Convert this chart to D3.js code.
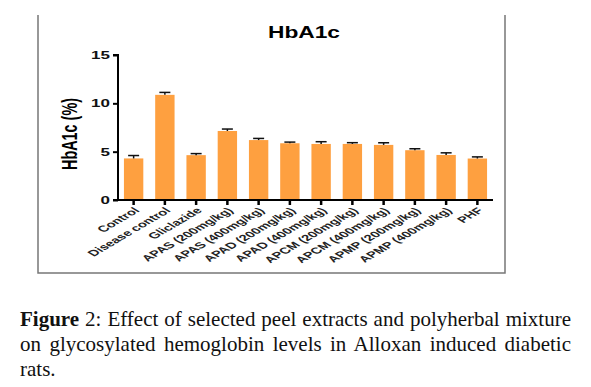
<!DOCTYPE html>
<html>
<head>
<meta charset="utf-8">
<script src="https://cdn.jsdelivr.net/npm/d3@7"></script>
<style>
  body { margin: 0; background: #fff; }
  #wrap { position: relative; width: 591px; height: 387px; }
  svg { position: absolute; left: 0; top: 0; }
  .cap { position: absolute; left: 20px; width: 551px;
         font-family: "Liberation Serif", "DejaVu Serif", "Times New Roman", serif;
         font-size: 21px; line-height: 24px; color: #111; white-space: nowrap; }
  .cap.j { text-align: justify; text-align-last: justify; }
</style>
</head>
<body>
<div id="wrap">
  <svg id="chart" width="591" height="290"></svg>
  <div class="cap j" style="top:307px"><b>Figure</b> 2: Effect of selected peel extracts and polyherbal mixture</div>
  <div class="cap j" style="top:332px">on glycosylated hemoglobin levels in Alloxan induced diabetic</div>
  <div class="cap" style="top:357px">rats.</div>
</div>
<script>
const groups = ["Control", "Disease control", "Gliclazide", "APAS (200mg/kg)", "APAS (400mg/kg)",
  "APAD (200mg/kg)", "APAD (400mg/kg)", "APCM (200mg/kg)", "APCM (400mg/kg)",
  "APMP (200mg/kg)", "APMP (400mg/kg)", "PHF"];
const means = [4.3, 10.88, 4.64, 7.14, 6.2, 5.87, 5.8, 5.8, 5.7, 5.15, 4.66, 4.29];
const errs = [0.3, 0.25, 0.16, 0.2, 0.17, 0.12, 0.23, 0.13, 0.22, 0.15, 0.22, 0.17];
const yTicks = [0, 5, 10, 15];

// the original figure is stretched sideways, so all chart text is widened
const stretch = 1.7;
const font = "Liberation Sans, Arial, sans-serif";

const svg = d3.select("#chart");

// frame around the figure (no top edge)
svg.append("path")
    .attr("d", "M38,15V273H505V15")
    .attr("fill", "none")
    .attr("stroke", "#777")
    .attr("stroke-width", 1.5);

const x = d3.scaleBand()
    .domain(groups)
    .range([118, 493])
    .paddingInner(0.38)
    .paddingOuter(0.19);

const y = d3.scaleLinear()
    .domain([0, 15])
    .range([200, 55]);

svg.append("text")
    .attr("x", 304)
    .attr("y", 38)
    .attr("text-anchor", "middle")
    .attr("font-family", font)
    .attr("font-weight", "bold")
    .attr("font-size", 16)
    .attr("textLength", 72)
    .attr("lengthAdjust", "spacingAndGlyphs")
    .text("HbA1c");

svg.append("g")
  .selectAll("rect")
  .data(groups)
  .join("rect")
    .attr("x", d => x(d))
    .attr("y", (d, i) => y(means[i]))
    .attr("width", x.bandwidth())
    .attr("height", (d, i) => y(0) - y(means[i]))
    .attr("fill", "#fea040");

// error bars, upper half only
const eb = svg.append("g")
    .attr("stroke", "#111")
    .attr("stroke-width", 1.5);
groups.forEach(function (g, i) {
  const cx = x(g) + x.bandwidth() / 2;
  eb.append("line")
      .attr("x1", cx).attr("x2", cx)
      .attr("y1", y(means[i])).attr("y2", y(means[i] + errs[i]));
  eb.append("line")
      .attr("x1", cx - 5.5).attr("x2", cx + 5.5)
      .attr("y1", y(means[i] + errs[i])).attr("y2", y(means[i] + errs[i]));
});

// y axis
const yAxis = svg.append("g")
    .attr("transform", "translate(118,0)")
    .call(d3.axisLeft(y).tickValues(yTicks).tickSize(5));
yAxis.select(".domain").attr("stroke-width", 2).attr("d", "M-5,55H0V200H-5");
yAxis.selectAll(".tick line").attr("stroke-width", 2);
yAxis.selectAll(".tick text")
    .attr("x", 0)
    .attr("dy", "0.36em")
    .attr("transform", "translate(-8,0) scale(" + stretch + ",1)")
    .attr("font-family", font)
    .attr("font-weight", "bold")
    .attr("font-size", 10)
    .attr("fill", "#111");

// x axis
const xAxis = svg.append("g")
    .attr("transform", "translate(0,200)")
    .call(d3.axisBottom(x).tickSize(5));
xAxis.select(".domain").attr("stroke-width", 2).attr("d", "M118,0H493");
xAxis.selectAll(".tick line").attr("stroke-width", 2.5);
xAxis.selectAll(".tick text")
    .attr("y", 0)
    .attr("dy", "0.35em")
    .attr("font-family", font)
    .attr("font-weight", "bold")
    .attr("font-size", 8.7)
    .attr("fill", "#222")
    .attr("text-anchor", "end")
    .attr("transform", "translate(3,9) scale(" + stretch + ",1) rotate(-45)");

svg.append("text")
    .attr("transform", "translate(77,134) scale(1.6,1) rotate(-90)")
    .attr("text-anchor", "middle")
    .attr("font-family", font)
    .attr("font-weight", "bold")
    .attr("font-size", 14)
    .attr("textLength", 72)
    .attr("lengthAdjust", "spacingAndGlyphs")
    .text("HbA1c (%)");
</script>
</body>
</html>
